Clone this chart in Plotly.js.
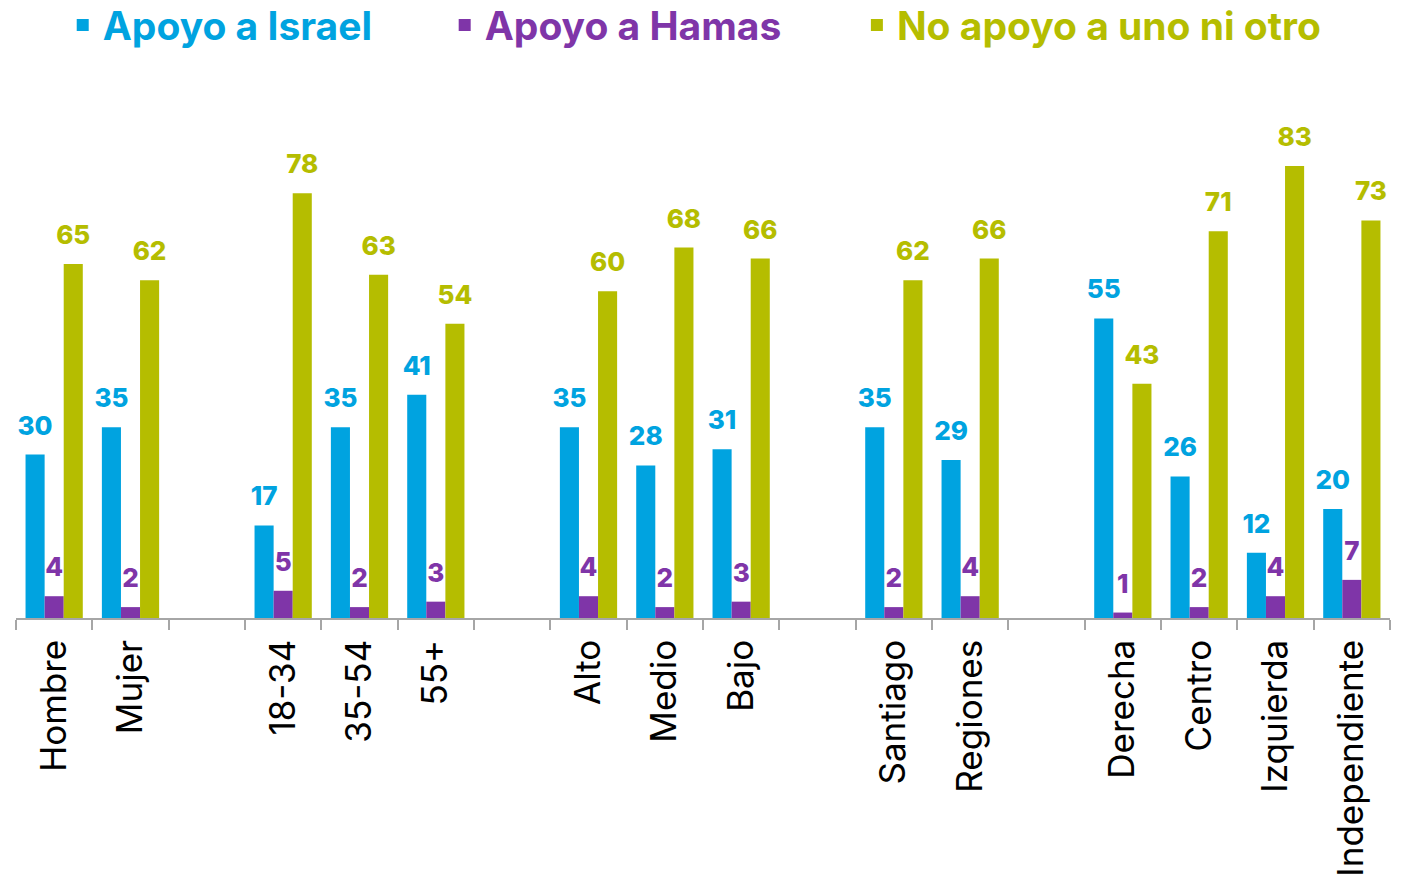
<!DOCTYPE html>
<html>
<head>
<meta charset="utf-8">
<script src="https://cdn.plot.ly/plotly-3.0.1.min.js"></script>
<style>
  html, body { margin: 0; padding: 0; background: #ffffff; }
  #chart { width: 1416px; height: 877px; }
</style>
</head>
<body>
<div id="chart"></div>
<script>
// Categories (blank strings are the gaps between groups)
const categories = ["Hombre", "Mujer", " ", "18-34", "35-54", "55+", "  ", "Alto", "Medio", "Bajo", "   ", "Santiago", "Regiones", "    ", "Derecha", "Centro", "Izquierda", "Independiente"];
const apoyoIsrael = [30, 35, null, 17, 35, 41, null, 35, 28, 31, null, 35, 29, null, 55, 26, 12, 20];
const apoyoHamas  = [4, 2, null, 5, 2, 3, null, 4, 2, 3, null, 2, 4, null, 1, 2, 4, 7];
const ninguno     = [65, 62, null, 78, 63, 54, null, 60, 68, 66, null, 62, 66, null, 43, 71, 83, 73];
const seriesNames = ["Apoyo a Israel", "Apoyo a Hamas", "No apoyo a uno ni otro"];
const seriesColors = ["#00a3e0", "#7f35a8", "#b5bd00"];
const seriesValues = [apoyoIsrael, apoyoHamas, ninguno];
const legendIds = ["legend", "legend2", "legend3"];

const GAP = 0.25;
const traces = [];
seriesValues.forEach((vals, i) => {
  traces.push({
    type: "bar",
    name: seriesNames[i],
    x: categories,
    y: vals,
    marker: { color: seriesColors[i] },
    legend: legendIds[i],
    hoverinfo: "x+y+name"
  });
});
// value labels, grouped like the bars
seriesValues.forEach((vals, i) => {
  traces.push({
    type: "scatter",
    mode: "markers+text",
    x: categories,
    y: vals,
    text: vals.map(v => v === null ? "" : String(v)),
    textposition: "top center",
    textfont: { family: "Inter, 'DejaVu Sans', sans-serif", size: 26, weight: 800, color: seriesColors[i] },
    marker: { size: 20, opacity: 0, color: seriesColors[i] },
    showlegend: false,
    hoverinfo: "skip",
    cliponaxis: false
  });
});

const legendBase = {
  orientation: "h",
  yanchor: "middle",
  xanchor: "left",
  y: 1.1445,
  bgcolor: "rgba(0,0,0,0)",
  itemclick: false,
  itemdoubleclick: false
};
function legendFor(i, x) {
  return Object.assign({}, legendBase, {
    x: x,
    font: { family: "Inter, 'DejaVu Sans', sans-serif", size: 39, weight: 700, color: seriesColors[i] }
  });
}

const layout = {
  width: 1416,
  height: 877,
  margin: { l: 16, r: 26, t: 100, b: 259, autoexpand: false },
  paper_bgcolor: "#ffffff",
  plot_bgcolor: "#ffffff",
  barmode: "group",
  bargap: GAP,
  bargroupgap: 0,
  scattermode: "group",
  scattergap: GAP,
  showlegend: true,
  legend: legendFor(0, 0.034),
  legend2: legendFor(1, 0.312),
  legend3: legendFor(2, 0.612),
  xaxis: {
    type: "category",
    categoryorder: "array",
    categoryarray: categories,
    tickson: "boundaries",
    ticks: "outside",
    ticklen: 10,
    tickwidth: 1.5,
    tickcolor: "#a6a6a6",
    showline: true,
    linecolor: "#a6a6a6",
    linewidth: 1.5,
    showgrid: false,
    zeroline: false,
    tickangle: -90,
    ticklabelstandoff: 6,
    tickfont: { family: "Inter, 'DejaVu Sans', sans-serif", size: 35, color: "#000000" },
    automargin: false,
    fixedrange: true
  },
  yaxis: {
    range: [0, 95.1],
    showgrid: false,
    zeroline: false,
    showline: false,
    showticklabels: false,
    ticks: "",
    automargin: false,
    fixedrange: true
  }
};

Plotly.newPlot("chart", traces, layout, { displayModeBar: false, responsive: false });
</script>
</body>
</html>
